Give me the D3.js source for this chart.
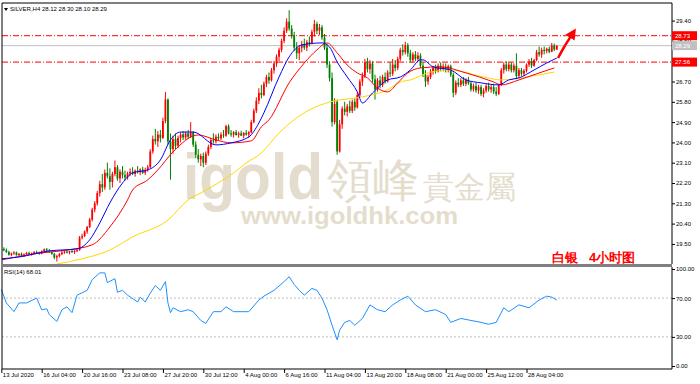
<!DOCTYPE html>
<html><head><meta charset="utf-8">
<script src="https://cdn.jsdelivr.net/npm/d3@7"></script>
<style>
body{margin:0;background:#fff}
svg{display:block}
text{font-family:"Liberation Sans",Arial,sans-serif}
</style>
</head><body>
<svg width="700" height="384"></svg>
<script>
const svg = d3.select('svg');

// SILVER H4 bars: [open, high, low, close], 13 Jul -> 28 Aug 2020
const bars = [
[19.20,19.32,19.12,19.28],[19.28,19.35,19.18,19.22],[19.22,19.30,19.10,19.14],[19.14,19.20,18.98,19.02],
[19.02,19.12,18.95,19.08],[19.08,19.18,19.02,19.12],[19.12,19.16,18.98,19.00],[19.00,19.10,18.94,19.06],
[19.06,19.12,18.96,18.98],[18.98,19.08,18.92,19.04],[19.04,19.14,19.00,19.10],[19.10,19.16,19.02,19.05],
[19.05,19.12,18.98,19.09],[19.09,19.18,19.04,19.14],[19.14,19.20,19.06,19.10],[19.10,19.16,19.02,19.06],
[19.06,19.22,19.04,19.18],[19.18,19.30,19.12,19.26],[19.26,19.32,19.15,19.20],[19.20,19.28,19.10,19.14],
[19.14,19.20,19.02,19.06],[19.06,19.10,18.82,18.90],[18.90,19.02,18.72,18.96],[18.96,19.10,18.90,19.05],
[19.05,19.18,19.00,19.12],[19.12,19.22,19.06,19.16],[19.16,19.24,19.08,19.12],[19.12,19.20,19.04,19.18],
[19.18,19.26,19.10,19.14],[19.14,19.22,19.06,19.20],[19.20,19.28,19.14,19.22],[19.22,19.85,19.20,19.78],
[19.78,19.95,19.70,19.85],[19.85,20.10,19.80,20.05],[20.05,20.30,19.95,20.25],[20.25,20.65,20.20,20.58],
[20.58,21.10,20.50,21.02],[21.02,21.40,20.90,21.30],[21.30,21.85,21.20,21.75],[21.75,22.30,21.60,22.15],
[22.15,22.60,21.80,22.00],[22.00,22.80,21.90,22.65],[22.65,23.10,22.40,22.50],[22.50,22.85,21.90,22.25],
[22.25,22.70,22.00,22.60],[22.60,23.20,22.50,22.90],[22.90,23.00,22.30,22.40],[22.40,22.80,22.20,22.70],
[22.70,22.95,22.40,22.55],[22.55,22.75,22.30,22.45],[22.45,22.70,22.35,22.62],[22.62,22.85,22.50,22.70],
[22.70,22.90,22.55,22.60],[22.60,22.80,22.48,22.75],[22.75,22.95,22.62,22.68],[22.68,22.85,22.55,22.80],
[22.80,22.92,22.60,22.65],[22.65,22.88,22.55,22.78],[22.78,23.00,22.70,22.90],[22.90,23.70,22.85,23.60],
[23.60,24.30,23.50,24.15],[24.15,24.60,23.90,24.05],[24.05,24.50,23.80,24.35],[24.35,24.55,24.00,24.20],
[24.20,25.10,24.15,24.95],[24.95,26.24,24.85,25.90],[25.90,25.95,23.90,24.05],[24.05,24.40,22.35,23.70],
[23.70,24.30,23.50,24.15],[24.15,24.40,23.70,23.85],[23.85,24.30,23.75,24.20],[24.20,24.45,24.00,24.35],
[24.35,24.50,24.10,24.22],[24.22,24.48,24.12,24.40],[24.40,24.55,24.15,24.25],[24.25,24.90,24.20,24.45],
[24.45,24.50,23.80,23.90],[23.90,24.05,23.30,23.45],[23.45,23.70,23.10,23.25],[23.25,23.50,22.95,23.40],
[23.40,23.55,22.90,23.10],[23.10,23.60,23.00,23.50],[23.50,23.90,23.40,23.80],[23.80,24.20,23.70,24.10],
[24.10,24.40,23.95,24.05],[24.05,24.35,23.95,24.25],[24.25,24.40,24.10,24.18],[24.18,24.45,24.10,24.35],
[24.35,24.55,24.20,24.30],[24.30,24.78,24.25,24.72],[24.72,24.80,24.35,24.40],[24.40,24.55,24.25,24.35],
[24.35,24.50,24.22,24.45],[24.45,24.55,24.30,24.33],[24.33,24.48,24.20,24.40],[24.40,24.52,24.28,24.30],
[24.30,24.46,24.18,24.42],[24.42,24.55,24.30,24.35],[24.35,24.50,24.20,24.45],[24.45,25.00,24.40,24.90],
[24.90,25.50,24.85,25.40],[25.40,26.00,25.30,25.85],[25.85,26.40,25.70,26.20],[26.20,26.55,25.95,26.10],
[26.10,26.70,26.05,26.60],[26.60,27.00,26.45,26.90],[26.90,27.10,26.60,26.75],[26.75,27.30,26.70,27.20],
[27.20,27.60,27.05,27.50],[27.50,27.90,27.35,27.80],[27.80,28.20,27.60,28.10],[28.10,28.60,28.00,28.50],
[28.50,29.10,28.40,28.95],[28.95,29.50,28.85,29.35],[29.35,29.86,28.95,29.05],[29.05,29.20,28.60,28.75],
[28.75,28.90,28.05,28.20],[28.20,28.45,27.70,27.95],[27.95,28.30,27.65,28.20],[28.20,28.50,28.00,28.35],
[28.35,28.60,28.10,28.20],[28.20,28.55,28.05,28.45],[28.45,28.70,28.25,28.40],[28.40,29.00,28.35,28.90],
[28.90,29.43,28.70,29.25],[29.25,29.35,28.80,28.95],[28.95,29.25,28.75,29.10],[29.10,29.20,28.55,28.65],
[28.65,28.80,28.10,28.20],[28.20,28.35,27.30,27.45],[27.45,27.60,26.70,26.85],[26.85,27.10,24.70,24.90],
[24.90,25.95,24.80,25.70],[25.80,25.90,23.45,23.60],[23.60,25.00,23.55,24.80],[24.80,25.60,24.60,25.50],
[25.50,25.80,25.20,25.35],[25.35,25.70,25.15,25.60],[25.60,25.85,25.30,25.40],[25.40,25.90,25.30,25.80],
[25.80,25.95,25.40,25.55],[25.55,26.20,25.50,26.10],[26.10,26.80,26.00,26.70],[26.70,27.10,26.50,26.95],
[26.95,27.70,26.85,27.55],[27.55,27.75,27.10,27.25],[27.25,27.65,27.05,27.50],[27.50,27.60,26.65,26.80],
[26.80,27.00,25.90,26.35],[26.35,26.85,26.25,26.75],[26.75,26.95,26.40,26.55],[26.55,27.00,26.45,26.90],
[26.90,27.10,26.60,26.70],[26.70,27.20,26.65,27.10],[27.10,27.55,26.90,27.05],[27.05,27.70,26.95,27.45],
[27.45,27.65,27.15,27.30],[27.30,27.80,27.20,27.70],[27.70,28.20,27.60,28.10],[28.10,28.35,27.85,28.00],
[28.00,28.46,27.90,28.30],[28.30,28.40,27.80,27.95],[27.95,28.10,27.55,27.65],[27.65,28.00,27.55,27.90],
[27.90,28.05,27.60,27.70],[27.70,28.00,27.60,27.85],[27.85,27.95,27.30,27.40],[27.40,27.55,26.90,27.00],
[27.00,27.20,26.46,26.70],[26.70,27.00,26.55,26.90],[26.90,27.25,26.80,27.15],[27.15,27.40,27.00,27.30],
[27.30,27.45,27.05,27.15],[27.15,27.50,27.10,27.40],[27.40,27.55,27.15,27.25],[27.25,27.50,27.15,27.35],
[27.35,27.50,27.10,27.20],[27.20,27.45,27.10,27.38],[27.38,27.45,26.90,27.00],[27.00,27.10,26.00,26.20],
[26.20,26.75,26.10,26.65],[26.65,26.85,26.45,26.55],[26.55,26.85,26.45,26.75],[26.75,26.90,26.50,26.60],
[26.60,26.85,26.50,26.78],[26.78,26.90,26.55,26.62],[26.62,26.70,26.25,26.35],[26.35,26.60,26.25,26.50],
[26.50,26.65,26.20,26.30],[26.30,26.55,26.15,26.45],[26.45,26.55,26.05,26.15],[26.15,26.40,26.00,26.30],
[26.30,26.60,26.20,26.50],[26.50,26.65,26.25,26.35],[26.35,26.55,26.20,26.45],[26.45,26.60,26.15,26.25],
[26.25,26.45,26.05,26.15],[26.15,26.60,26.10,26.55],[26.55,27.30,26.50,27.20],[27.20,27.55,27.05,27.45],
[27.45,27.60,27.15,27.25],[27.25,27.55,27.15,27.45],[27.45,27.55,27.10,27.20],[27.20,27.50,27.10,27.40],
[27.40,27.95,26.80,26.95],[26.95,27.30,26.85,27.20],[27.20,27.30,26.95,27.05],[27.05,27.25,26.95,27.18],
[27.18,27.50,27.10,27.45],[27.45,27.70,27.35,27.60],[27.60,27.75,27.30,27.40],[27.40,27.70,27.35,27.65],
[27.65,28.10,27.60,28.00],[28.00,28.25,27.80,27.90],[27.90,28.20,27.75,28.10],[28.10,28.25,27.90,28.05],
[28.05,28.20,27.95,28.15],[28.15,28.25,27.95,28.02],[28.02,28.41,28.00,28.30],[28.30,28.38,28.05,28.12],
[28.12,28.30,28.10,28.29]
];

// moving averages: [bar index, price]
const maBlue = [[0,18.84],[7,18.92],[19,19.19],[30,19.28],[35,19.68],[39,20.43],[43,21.32],[48,22.2],[52,22.65],
  [58,22.78],[63,23.22],[67,24.11],[71,24.46],[76,24.46],[85,23.89],[91,23.98],[98,24.24],[102,24.86],[104,25.31],
  [110,26.9],[114,27.79],[119,28.32],[127,28.41],[130,28.23],[133,27.57],[137,26.9],[141,26.24],[143,25.75],
  [147,26.19],[153,26.77],[158,26.9],[162,27.21],[166,27.66],[167,27.66],[171,27.35],[178,27.21],[184,26.77],
  [190,26.64],[197,26.55],[201,26.77],[205,26.86],[211,27.21],[216,27.52],[220,27.74]];
const maRed = [[0,18.79],[13,19.06],[26,19.23],[36,19.46],[43,20.25],[50,21.45],[52,21.89],[58,22.34],[62,22.78],
  [68,23.58],[78,24.33],[85,24.11],[91,23.98],[99,24.07],[103,24.69],[106,25.0],[114,26.64],[120,27.52],[125,28.1],
  [129,28.41],[133,27.97],[137,27.43],[141,27.08],[145,26.86],[149,26.41],[153,26.24],[157,26.64],[161,27.08],
  [166,27.3],[174,27.35],[184,27.08],[195,26.68],[198,26.55],[205,26.77],[213,27.08],[219,27.3]];
const maYellow = [[22,18.61],[32,18.84],[43,19.23],[52,19.81],[66,20.56],[74,21.45],[79,21.76],[92,22.65],
  [97,23.09],[103,23.53],[110,24.42],[122,25.44],[130,25.79],[143,26.02],[153,26.33],[158,26.68],[162,26.77],
  [170,27.12],[178,27.21],[191,26.9],[198,26.77],[208,26.9],[219,27.12]];

// RSI(14): [bar index, value]
const rsi = [[0,79],[2,65],[5,56],[7,65],[10,65],[14,70],[16,58],[18,59],[19,53],[22,46],[24,58],[26,61],[28,55],
  [30,73],[34,78],[36,89],[39,96],[41,96],[42,86],[45,90],[46,76],[48,78],[50,73],[54,66],[55,71],[57,66],[59,75],
  [61,83],[63,78],[65,87],[66,65],[67,55],[68,60],[71,56],[74,58],[76,56],[79,47],[81,44],[84,56],[87,56],[89,61],
  [92,56],[95,56],[98,56],[102,68],[104,72],[108,78],[112,87],[114,92],[116,84],[118,78],[120,73],[123,80],
  [125,78],[127,70],[129,58],[131,42],[133,27],[134,37],[136,45],[138,47],[140,42],[143,49],[146,63],[149,58],
  [152,56],[155,63],[158,68],[161,72],[164,63],[168,56],[172,58],[176,53],[178,45],[182,49],[186,47],[190,45],
  [193,43],[196,45],[199,60],[201,56],[205,63],[209,60],[213,68],[216,72],[218,71],[220,68]];

const priceTicks = [19.5, 20.4, 21.3, 22.2, 23.1, 24.0, 24.9, 25.8, 26.7, 28.5, 29.4];
const rsiTicks = [0, 30, 70, 100];
const timeTicks = [0, 16, 32, 48, 64, 80, 96, 112, 128, 144, 160, 176, 192, 208];
const timeLabels = ['13 Jul 2020','16 Jul 04:00','20 Jul 16:00','23 Jul 08:00','27 Jul 20:00','30 Jul 12:00',
  '4 Aug 00:00','6 Aug 16:00','11 Aug 04:00','13 Aug 20:00','18 Aug 08:00','21 Aug 00:00','25 Aug 12:00','28 Aug 04:00'];
const levels = [28.73, 27.56];
const lastPrice = 28.29;
const arrowPts = [[220.5,27.74],[222.9,28.23],[226.4,28.85]];

const left = 2, right = 672, mainTop = 3, mainBottom = 264, rsiTop = 267, rsiBottom = 369;

const x = d3.scaleLinear().domain([0, 220]).range([1.3, 1.3 + 220 * 2.525]);
const y = d3.scaleLinear().domain([18.61, 30.18]).range([mainBottom, mainTop]);
const yR = d3.scaleLinear().domain([0, 100]).range([366, 269]);

const defs = svg.append('defs');
defs.append('clipPath').attr('id', 'clipMain').append('rect')
  .attr('x', left).attr('y', mainTop).attr('width', right - left).attr('height', mainBottom - mainTop);
defs.append('marker').attr('id', 'head').attr('markerUnits', 'userSpaceOnUse')
  .attr('viewBox', '0 0 10 10').attr('refX', 5).attr('refY', 5)
  .attr('markerWidth', 11).attr('markerHeight', 11).attr('orient', 'auto')
  .append('path').attr('d', 'M0,0 L10,5 L0,10 Z').attr('fill', '#ff0000');

// watermark
const wm = svg.append('g').attr('fill', '#e4ddcd');
wm.append('text').attr('x', 183).attr('y', 199).attr('font-family', '"Liberation Serif",serif')
  .attr('font-weight', 'bold').attr('font-size', 64).attr('textLength', 140).attr('lengthAdjust', 'spacingAndGlyphs')
  .text('igold');
wm.append('text').attr('x', 327).attr('y', 196).attr('font-family', '"Noto Sans CJK TC",sans-serif')
  .attr('font-size', 46).text('領峰');
wm.append('text').attr('x', 423).attr('y', 198).attr('font-family', '"Noto Sans CJK TC",sans-serif')
  .attr('font-size', 31).text('貴金屬');
wm.append('text').attr('x', 241).attr('y', 224).attr('font-family', '"Open Sans",sans-serif')
  .attr('font-weight', 'bold').attr('font-size', 24).attr('textLength', 217).attr('lengthAdjust', 'spacingAndGlyphs')
  .text('www.igoldhk.com');

const g = svg.append('g').attr('clip-path', 'url(#clipMain)');

// levels
g.append('line').attr('x1', left).attr('x2', right).attr('y1', y(lastPrice)).attr('y2', y(lastPrice))
  .attr('stroke', '#c0c0c0').attr('stroke-width', 1);
g.selectAll('.lvl').data(levels).enter().append('line')
  .attr('x1', left).attr('x2', right).attr('y1', d => y(d)).attr('y2', d => y(d))
  .attr('stroke', '#ff0000').attr('stroke-width', 1).attr('stroke-dasharray', '6,2,1,2');

// candles
const up = d => d[3] >= d[0];
const col = d => up(d) ? '#ff0000' : '#008000';
g.selectAll('.wick').data(bars).enter().append('line')
  .attr('x1', (d, i) => x(i)).attr('x2', (d, i) => x(i))
  .attr('y1', d => y(d[1])).attr('y2', d => y(d[2]))
  .attr('stroke', col).attr('stroke-width', 1);
g.selectAll('.body').data(bars).enter().append('rect')
  .attr('x', (d, i) => x(i) - 0.9).attr('width', 1.8)
  .attr('y', d => y(Math.max(d[0], d[3])))
  .attr('height', d => Math.max(1, Math.abs(y(d[0]) - y(d[3]))))
  .attr('fill', col);

// moving averages
const maLine = d3.line().x(d => x(d[0])).y(d => y(d[1])).curve(d3.curveMonotoneX);
[[maYellow, '#ffd700'], [maRed, '#ff0000'], [maBlue, '#0000ff']].forEach(([data, c]) => {
  g.append('path').attr('d', maLine(data)).attr('fill', 'none').attr('stroke', c).attr('stroke-width', 1);
});

// arrow
g.append('path').attr('d', d3.line().x(d => x(d[0])).y(d => y(d[1])).curve(d3.curveNatural)(arrowPts))
  .attr('fill', 'none').attr('stroke', '#ff0000').attr('stroke-width', 2.5).attr('marker-end', 'url(#head)');

// red caption
svg.append('text').attr('x', 552).attr('y', 262).attr('fill', '#ff0000').attr('font-weight', 'bold')
  .attr('font-family', '"Noto Sans CJK SC",sans-serif').attr('font-size', 13).text('白银');
svg.append('text').attr('x', 589).attr('y', 262).attr('fill', '#ff0000').attr('font-weight', 'bold')
  .attr('font-family', '"Noto Sans CJK SC",sans-serif').attr('font-size', 13).text('4小时图');

// RSI panel
const rg = svg.append('g');
rg.selectAll('.rl').data([30, 70]).enter().append('line')
  .attr('x1', left).attr('x2', right).attr('y1', d => yR(d)).attr('y2', d => yR(d))
  .attr('stroke', '#c0c0c0').attr('stroke-dasharray', '2,2');
rg.append('path').attr('d', d3.line().x(d => x(d[0])).y(d => yR(d[1]))(rsi))
  .attr('fill', 'none').attr('stroke', '#1e90ff').attr('stroke-width', 1);

// frames
svg.append('line').attr('x1', left).attr('x2', right).attr('y1', mainTop).attr('y2', mainTop).attr('stroke', '#000');
svg.append('line').attr('x1', left).attr('x2', left).attr('y1', mainTop).attr('y2', rsiBottom).attr('stroke', '#000');
svg.append('rect').attr('x', left).attr('y', mainBottom).attr('width', right - left).attr('height', 3).attr('fill', '#808080');

// price axis
const ya = svg.append('g').attr('transform', `translate(${right},0)`)
  .call(d3.axisRight(y).tickValues(priceTicks).tickSize(3).tickPadding(1).tickFormat(d => d.toFixed(2)));
ya.select('.domain').attr('d', `M0,${mainTop}V${mainBottom}`);
const ra = svg.append('g').attr('transform', `translate(${right},0)`)
  .call(d3.axisRight(yR).tickValues(rsiTicks).tickSize(3).tickPadding(1).tickFormat(d => d.toFixed(2)));
ra.select('.domain').attr('d', `M0,${rsiTop}V${rsiBottom}`);
[ya, ra].forEach(a => a.selectAll('text').attr('font-size', 6).attr('font-family', '"Liberation Sans",Arial,sans-serif'));

// time axis
const xa = svg.append('g').attr('transform', `translate(0,${rsiBottom})`)
  .call(d3.axisBottom(x).tickValues(timeTicks).tickSize(4).tickFormat((d, i) => timeLabels[i]));
xa.select('.domain').attr('d', `M${left},0H${right}`);
xa.selectAll('text').attr('text-anchor', 'start').attr('dx', 1).attr('y', 4).attr('dy', '0.71em')
  .attr('font-size', 6).attr('font-family', '"Liberation Sans",Arial,sans-serif');

// price labels on the axis
const tags = [[levels[0], '#ff0000'], [lastPrice, '#c0c0c0'], [levels[1], '#ff0000']];
tags.forEach(([v, c]) => {
  svg.append('rect').attr('x', right).attr('y', y(v) - 4.5).attr('width', 25).attr('height', 9).attr('fill', c);
  svg.append('text').attr('x', right + 3).attr('y', y(v)).attr('dy', '0.35em').attr('fill', '#fff')
    .attr('font-size', 6).text(v.toFixed(2));
});

// header texts
svg.append('path').attr('d', 'M4,8 L8,8 L6,11 Z').attr('fill', '#000');
svg.append('text').attr('x', 10).attr('y', 11).attr('font-size', 6).text('SILVER,H4  28.12 28.30 28.10 28.29');
svg.append('text').attr('x', 4).attr('y', 274).attr('font-size', 6).text('RSI(14) 68.01');
</script>
</body></html>
